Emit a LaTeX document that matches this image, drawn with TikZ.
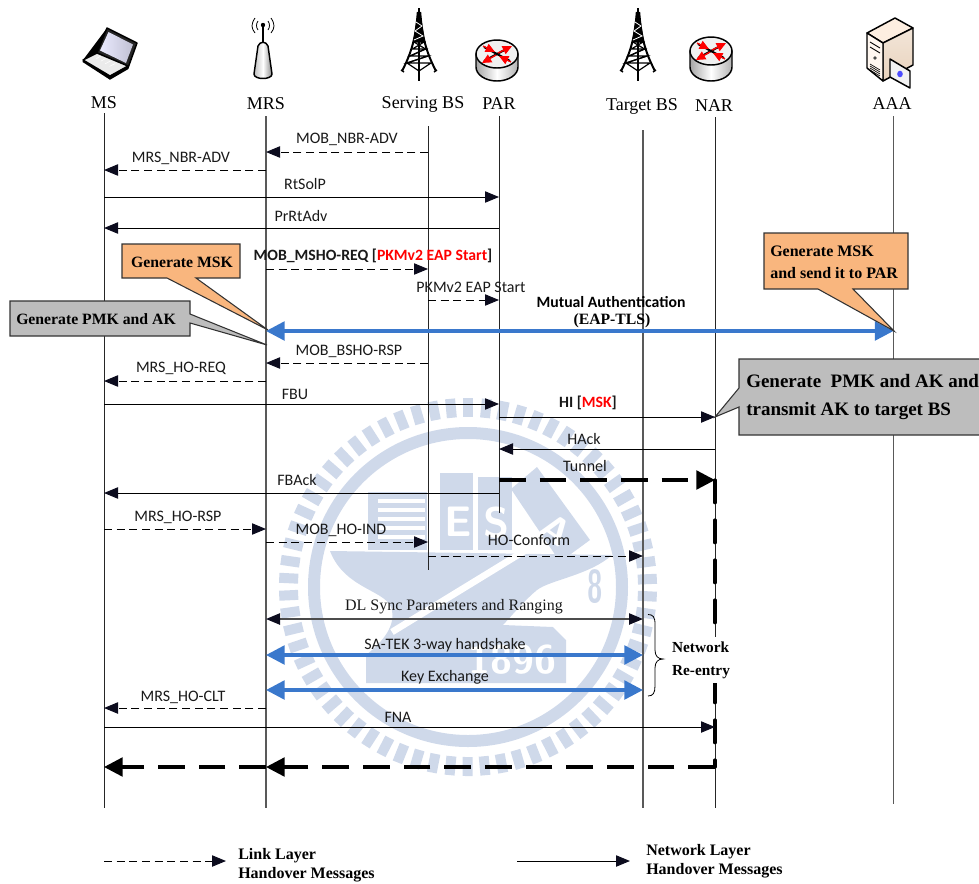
\documentclass[tikz,border=0pt]{standalone}
\usepackage{fontspec}
\usetikzlibrary{arrows.meta,calc}
\setmainfont{Liberation Serif}
\newfontfamily\clb{Carlito}
\definecolor{wm}{HTML}{CFD9EA}
\definecolor{blueline}{HTML}{3A78CC}
\definecolor{orangebox}{HTML}{F9B67E}
\definecolor{graybox}{HTML}{BDBDBD}
\definecolor{arrowdark}{HTML}{0C0C1E}
\tikzset{
  x=0.75pt,y=-0.75pt,
  life/.style={line width=0.7pt,black!85},
  lifegray/.style={line width=0.85pt,black!65},
  thintip/.style={-{Triangle[length=10.5pt,width=8.5pt,color=arrowdark]}},
  solidmsg/.style={line width=0.75pt,thintip},
  dashmsg/.style={line width=0.75pt,dash pattern=on 6pt off 3.5pt,thintip},
  bidark/.style={line width=1pt,black!70,{Triangle[length=10.5pt,width=8.5pt,color=arrowdark]}-{Triangle[length=10.5pt,width=8.5pt,color=arrowdark]}},
  blueboth/.style={line width=2.6pt,blueline,{Triangle[length=14pt,width=14pt]}-{Triangle[length=14pt,width=14pt]}},
  thickdash/.style={line width=2.5pt,dash pattern=on 20pt off 10.5pt,-{Triangle[length=14pt,width=14pt]}},
  sanslab/.style={font=\clb\fontsize{12}{13}\selectfont,inner sep=0pt,text=black!90},
  sansbold/.style={font=\clb\bfseries\fontsize{11.8}{13}\selectfont,inner sep=0pt},
  serlab/.style={font=\fontsize{13.5}{15}\selectfont,inner sep=0pt},
  boldser/.style={font=\bfseries\fontsize{11.8}{14}\selectfont,inner sep=0pt,align=left},
  calloutor/.style={fill=orangebox,draw=black!80,line width=0.8pt},
  calloutgr/.style={fill=graybox,draw=black!80,line width=0.8pt},
  wmtext/.style={text=white,inner sep=0pt,font=\sffamily\bfseries}
}
\newcommand{\msg}[8][]{%
  \draw[#2,#1] (#3|-0,#5) -- (#4|-0,#5);
  \node[sanslab] (#6) at (#7) {#8};}
\newcommand{\towericon}[1]{%
\begin{scope}[shift={(#1,0)}]
  \draw[line width=1.2pt] (0,8) -- (0,81);
  \fill (-1.6,14) -- (1.6,14) -- (6,42) -- (-6,42) -- cycle;
  \draw[line width=1.5pt] (-1.2,12) .. controls (-3,36) and (-7,52) .. (-17,71);
  \draw[line width=1.5pt] (1.2,12) .. controls (3,36) and (7,52) .. (17,71);
  \draw[line width=0.6pt,white] (-3,22)--(3,26)--(-4,31)--(4,36)--(-5,40);
  \draw[line width=0.9pt] (-5,42)--(5,42)--(-6.5,49)--(6.5,49)--(-9,56)--(9,56)--(-12,63)--(12,63)--(0,71)--(-12,63);
  \draw[line width=0.9pt] (-5,42)--(6.5,49)--(-9,56);
  \draw[line width=0.9pt] (9,56)--(-12,63);
  \draw[line width=1.1pt] (-18,70) -- (-15,72);
  \draw[line width=1.1pt] (18,70) -- (15,72);
\end{scope}}
\newcommand{\routericon}[3]{%
\begin{scope}[shift={(#1,#2)}]
  \path[draw=black,line width=1.1pt,left color=black!35,right color=black!30,middle color=white]
    (-21,0) -- (-21,#3) arc[start angle=180,end angle=0,x radius=21,y radius=14] -- (21,0) -- cycle;
  \draw[line width=1.1pt,fill=black!6] (0,0) ellipse[x radius=21,y radius=14];
  \draw[line width=1.5pt] (-13,-7) -- (13,7);
  \draw[line width=1.5pt] (-13,7) -- (13,-7);
  \draw[red,line width=1pt,-{Triangle[length=7pt,width=6.5pt]}] (1,-1) -- (15,-8);
  \draw[red,line width=1pt,-{Triangle[length=7pt,width=6.5pt]}] (-1,1) -- (-15,9);
  \draw[red,line width=1pt,-{Triangle[length=7pt,width=6.5pt]}] (-14,-8) -- (-2,-2);
  \draw[red,line width=1pt,-{Triangle[length=7pt,width=6.5pt]}] (14,8) -- (2,2);
\end{scope}}
\begin{document}
\begin{tikzpicture}
\useasboundingbox (0,0) rectangle (979,883);
% ---- watermark
\begin{scope}
  \foreach \a in {0,5.45,...,354.4}{
    \fill[wm,rotate around={\a:(468,587)}] (463,398) rectangle (473,417);
  }
  \draw[wm,line width=9pt] (468,587) circle[radius=154];
  \fill[wm] (368,492) rectangle (427,550);
  \foreach \yy in {499,508,517,526,535}{\fill[white] (378,\yy) rectangle (425,\yy+4);}
  \fill[wm] (440,473) rectangle (473,550);
  \fill[wm] (478,477) rectangle (512,550);
  \fill[wm] (511,489) -- (537,467) -- (590,540) -- (560,562) -- cycle;
  \node[wmtext,font=\sffamily\bfseries\fontsize{32}{32}\selectfont] (wmE) at (458,522) {E};
  \node[wmtext,font=\sffamily\bfseries\fontsize{32}{32}\selectfont] (wmS) at (497,523) {S};
  \node[wmtext,font=\sffamily\bfseries\fontsize{28}{28}\selectfont,rotate=-35] (wmA) at (556,530) {A};
  \fill[wm] (330,551) -- (612,555) .. controls (590,575) and (550,580) .. (537,590)
    .. controls (525,600) and (515,612) .. (503,625) -- (553,627) -- (566,640) -- (566,683) -- (366,683)
    -- (366,655) .. controls (385,640) and (395,625) .. (392,610)
    .. controls (388,590) and (345,590) .. (330,551) -- cycle;
  \draw[white,line width=5pt] (392,632) -- (526,550);
  \node[text=wm,inner sep=0pt,font=\sffamily\bfseries\fontsize{30}{30}\selectfont,xscale=0.7,yscale=1.15,transform shape] (wm8) at (595,587) {8};
  \node[wmtext,font=\sffamily\bfseries\fontsize{30}{30}\selectfont] (wmY) at (512,660) {1896};
\end{scope}
% ---- lifelines
\coordinate (lms) at (104,113);  \coordinate (lmsb) at (104,808);
\coordinate (lmrs) at (266,116); \coordinate (lmrsb) at (266,808);
\coordinate (lbs) at (428,126);  \coordinate (lbsb) at (428,570);
\coordinate (lpar) at (499,116); \coordinate (lparb) at (499,513);
\coordinate (ltbs) at (643,130); \coordinate (ltbsb) at (643,808);
\coordinate (lnar) at (715,117); \coordinate (lnarb) at (715,808);
\coordinate (laaa) at (893.5,116); \coordinate (laaab) at (893.5,804);
\draw[life] (lms) -- (lmsb);
\draw[lifegray] (lmrs) -- (lmrsb);
\draw[life] (lbs) -- (lbsb);
\draw[life] (lpar) -- (lparb);
\draw[lifegray] (ltbs) -- (ltbsb);
\draw[life] (lnar) -- (lnarb);
\draw[lifegray] (laaa) -- (laaab);
% ---- icons
\begin{scope}
  \fill[black] (107,28) -- (137,43) -- (128,68) -- (110,79) -- (83,60) -- cycle;
  \draw[line join=round,line width=1.1pt,fill=black!85] (107,28) -- (137,43) -- (128,68) -- (97,53) -- cycle;
  \path[left color=blue!8!white,right color=blue!30!black!25] (108.5,32) -- (133,44.5) -- (126,63) -- (100,50.5) -- cycle;
  \draw[line join=round,line width=1.1pt,fill=black!8] (97,53) -- (83,60) -- (110,76) -- (128,66) -- cycle;
  \foreach \t in {0.2,0.4,0.6,0.8}{\draw[white,line width=0.4pt] ($(92,56)!\t!(114,69)$) -- ($(96,53.5)!\t!(120,66)$);}
  \draw[line width=1.6pt] (83,61) -- (110,78.5) -- (128,68);
\end{scope}
\begin{scope}
  \draw[line width=1.3pt] (263,25) -- (263,44);
  \fill (263,25) circle[radius=2.2];
  \draw[line width=0.6pt] (258,21) .. controls (256,24) and (256,27) .. (258,30);
  \draw[line width=0.6pt] (268,21) .. controls (270,24) and (270,27) .. (268,30);
  \draw[line width=0.6pt] (255,18) .. controls (251,24) and (251,28) .. (255,33);
  \draw[line width=0.6pt] (271,18) .. controls (275,24) and (275,28) .. (271,33);
  \path[draw=black,line width=1.1pt,left color=black!25,right color=black!45,middle color=white]
    (258,46) .. controls (260,41) and (266,41) .. (268,46) -- (272,74)
    .. controls (272,80) and (254,80) .. (254,74) -- cycle;
\end{scope}
\towericon{419}
\towericon{638}
\routericon{497}{54}{13}
\routericon{711}{51}{16}
\begin{scope}[line join=round]
  \path[draw=black,line width=1.1pt,fill=black!8!orange!12!white] (867,33) -- (895,18) -- (913,28) -- (883,43) -- cycle;
  \path[draw=black,line width=1.1pt,bottom color=brown!35!white,top color=brown!20!white] (883,43) -- (913,28) -- (913,65) -- (883,81) -- cycle;
  \path[draw=black,line width=1.1pt,fill=orange!6!white] (867,33) -- (883,43) -- (883,81) -- (867,68) -- cycle;
  \draw[line width=0.7pt] (870,42) -- (880,48);
  \draw[line width=0.7pt] (870,47) -- (880,53);
  \fill[black!70] (875,58) circle[radius=1.8];
  \foreach \d in {0,2,4,6}{\draw[line width=0.5pt] (870,64+\d) -- (880,70+\d);}
  \path[draw=black,line width=1.1pt,fill=black!5] (890,59) -- (910,71) -- (910,88) -- (890,77) -- cycle;
  \fill[blue!70!white] (900,74) ellipse[x radius=2.8,y radius=3.3];
\end{scope}
% ---- header labels
\node[serlab] (nms) at (104,103) {MS};
\node[serlab] (nmrs) at (266,104) {MRS};
\node[serlab] (nbs) at (423,104) {Serving BS};
\node[serlab] (npar) at (499,104) {PAR};
\node[serlab] (ntbs) at (642,106) {Target BS};
\node[serlab] (nnar) at (714,106) {NAR};
\node[serlab] (naaa) at (892,104) {AAA};
% ---- NAR thick segment, re-entry label (white covers the line)
\coordinate (tunnelEnd) at (715,480);
\coordinate (tunnelBot) at (715,767);
\draw[line width=2.4pt,line cap=round,dash pattern=on 17pt off 13pt] (tunnelEnd) -- (tunnelBot);
\fill[white] (700,637) rectangle (730,683);
% ---- messages
\msg{dashmsg}{lbs}{lmrs}{152}{m1}{347,139.5}{MOB\_NBR-ADV}
\msg{dashmsg}{lmrs}{lms}{170}{m2}{181,158}{MRS\_NBR-ADV}
\msg{solidmsg}{lms}{lpar}{197}{m3}{305,184}{RtSolP}
\msg{solidmsg}{lpar}{lms}{228}{m4}{301,216}{PrRtAdv}
\msg{dashmsg}{lmrs}{lbs}{269}{m5}{373,256}{\fontsize{11.8}{13}\selectfont\bfseries MOB\_MSHO-REQ [\textcolor{red}{PKMv2 EAP Start}]}
\msg{dashmsg}{lbs}{lpar}{300}{m6}{471,287}{PKMv2 EAP Start}
\msg{dashmsg}{lbs}{lmrs}{363}{m8}{349,351.5}{MOB\_BSHO-RSP}
\msg{dashmsg}{lmrs}{lms}{381}{m9}{181,368}{MRS\_HO-REQ}
\msg{solidmsg}{lms}{lpar}{404}{m10}{295,394}{FBU}
\msg{solidmsg}{lpar}{lnar}{417}{m11}{588,403}{\fontsize{11.8}{13}\selectfont\bfseries HI [\textcolor{red}{MSK}]}
\msg{solidmsg}{lnar}{lpar}{449}{m12}{584,439}{HAck}
\msg{thickdash}{lpar}{lnar}{480}{m13}{585,466}{Tunnel}
\msg{solidmsg}{lpar}{lms}{493}{m14}{297,480}{FBAck}
\msg{dashmsg}{lms}{lmrs}{529}{m15}{178,517}{MRS\_HO-RSP}
\msg{dashmsg}{lmrs}{lbs}{542}{m16}{341,530}{MOB\_HO-IND}
\msg{dashmsg}{lbs}{ltbs}{556}{m17}{529,540}{HO-Conform}
\msg{bidark}{lmrs}{ltbs}{619}{m18}{454,606.5}{\rmfamily\fontsize{12}{13}\selectfont DL Sync Parameters and Ranging}
\msg{blueboth}{lmrs}{ltbs}{655}{m19}{445,645}{SA-TEK 3-way handshake}
\msg{blueboth}{lmrs}{ltbs}{690}{m20}{445,677}{Key Exchange}
\msg{dashmsg}{lmrs}{lms}{708}{m21}{183,697}{MRS\_HO-CLT}
\msg{solidmsg}{lms}{lnar}{727}{m22}{398,717}{FNA}
\draw[thickdash] (lnar|-tunnelBot) -- (lmrs|-tunnelBot);
\draw[thickdash] (lmrs|-tunnelBot) -- (lms|-tunnelBot);
% ---- mutual authentication
\draw[blueboth] (lmrs|-0,331) -- (laaa|-0,331);
\node[sansbold] (mutual) at (611,302) {Mutual Authentication};
\node[font=\bfseries\fontsize{11.8}{13}\selectfont,inner sep=0pt] (eap) at (612,321) {(EAP-TLS)};
% ---- brace and network re-entry
\coordinate (brTop) at (648,614.5);
\coordinate (brTip) at (663,659);
\coordinate (brBot) at (648,696);
\draw[line width=0.6pt] (brTop) .. controls (653,614.5) and (655,617) .. (655,624) -- (655,650)
  .. controls (655,656) and (658,659) .. (brTip)
  .. controls (658,659) and (655,662) .. (655,668) -- (655,686)
  .. controls (655,693) and (653,696) .. (brBot);
\node[boldser,font=\bfseries\fontsize{11.5}{17}\selectfont] (reentry) at (701,660) {Network\\Re-entry};
% ---- callouts
\path[calloutor] (122,244) -- (240,244) -- (240,278) -- (196,278) -- (268,330) -- (167,278) -- (122,278) -- cycle;
\node[boldser] (c1) at (182,262) {Generate MSK};
\path[calloutgr] (10,301) -- (190,301) -- (190,314) -- (267,345) -- (190,323) -- (190,336) -- (10,336) -- cycle;
\node[boldser] (c2) at (96,319) {Generate PMK and AK};
\path[calloutor] (764,233) -- (908,233) -- (908,289) -- (853,289) -- (894,331) -- (818,289) -- (764,289) -- cycle;
\node[boldser,font=\bfseries\fontsize{12}{16.5}\selectfont,anchor=west] (c3) at (770,262) {Generate MSK\\and send it to PAR};
\path[calloutgr] (979.5,359) -- (739,359) -- (739,388) -- (715,417) -- (739,407) -- (739,435) -- (979.5,435);
\node[boldser,font=\bfseries\fontsize{14.25}{20.5}\selectfont,anchor=west] (c4) at (746,397) {Generate\ \ PMK and AK and\\transmit AK to target BS};
% ---- legend
\coordinate (lg1a) at (104,861); \coordinate (lg1b) at (226,861);
\coordinate (lg2a) at (517,861); \coordinate (lg2b) at (630,861);
\draw[dashmsg] (lg1a) -- (lg1b);
\draw[solidmsg] (lg2a) -- (lg2b);
\node[boldser,font=\bfseries\fontsize{12}{14}\selectfont,anchor=west] (lgt1) at (238,865.5) {Link Layer\\Handover Messages};
\node[boldser,font=\bfseries\fontsize{12}{14}\selectfont,anchor=west] (lgt2) at (646,861) {Network Layer\\Handover Messages};
\end{tikzpicture}
\end{document}
